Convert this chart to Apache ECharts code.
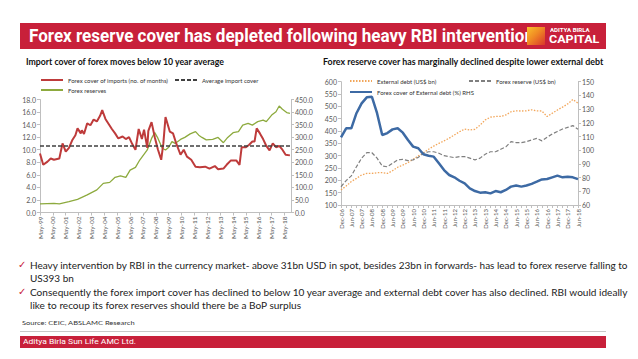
<!DOCTYPE html>
<html><head><meta charset="utf-8">
<script src="https://cdn.jsdelivr.net/npm/echarts@6/dist/echarts.min.js"></script>
<style>
html,body{margin:0;padding:0;background:#fff;width:638px;height:359px;overflow:hidden;font-family:Lato,"Open Sans",sans-serif;}
.abs{position:absolute;white-space:nowrap;}
.fit{display:inline-block;transform-origin:0 0;}
</style></head>
<body>
<div id="chart" style="position:absolute;left:0;top:0;width:638px;height:359px;"></div>

<div class="abs" style="left:20px;top:23px;width:586px;height:26px;background:#C8203A;"></div>
<div class="abs fit" data-w="505" style="left:29px;top:24px;font:bold 19px Roboto,sans-serif;color:#fff;">Forex reserve cover has depleted following heavy RBI intervention</div>
<div class="abs" style="left:527px;top:27px;width:18px;height:18px;background:linear-gradient(135deg,#F9C02B 0%,#F08A24 45%,#D9362B 100%);"></div>
<div class="abs fit" data-w="40" style="left:550px;top:27px;font:bold 5.5px Roboto,sans-serif;color:#fff;">ADITYA BIRLA</div>
<div class="abs fit" data-w="50" style="left:549px;top:33px;font:bold 11px Roboto,sans-serif;color:#fff;">CAPITAL</div>

<div class="abs fit" data-w="198" style="left:26px;top:57px;font:bold 8.5px Lato,sans-serif;color:#111;">Import cover of forex moves below 10 year average</div>
<div class="abs fit" data-w="280" style="left:323px;top:57px;font:bold 8.5px Lato,sans-serif;color:#111;">Forex reserve cover has marginally declined despite lower external debt</div>

<div class="abs" style="left:18px;top:259px;font:10px 'DejaVu Sans',sans-serif;color:#C8203A;">✓</div>
<div class="abs" style="left:18px;top:286px;font:10px 'DejaVu Sans',sans-serif;color:#C8203A;">✓</div>
<div class="abs fit" id="b1" data-w="597" style="left:30px;top:259px;font:10px Lato,sans-serif;color:#222;">Heavy intervention by RBI in the currency market- above 31bn USD in spot, besides 23bn in forwards- has lead to forex reserve falling to</div>
<div class="abs fit" data-same="b1" style="left:30px;top:272px;font:10px Lato,sans-serif;color:#222;">US393 bn</div>
<div class="abs fit" id="b3" data-w="597" style="left:30px;top:286px;font:10px Lato,sans-serif;color:#222;">Consequently the forex import cover has declined to below 10 year average and external debt cover has also declined. RBI would ideally</div>
<div class="abs fit" data-same="b3" style="left:30px;top:299px;font:10px Lato,sans-serif;color:#222;">like to recoup its forex reserves should there be a BoP surplus</div>

<div class="abs fit" data-w="113" style="left:22px;top:319px;font:6.5px Lato,sans-serif;color:#333;">Source: CEIC, ABSLAMC Research</div>
<div class="abs" style="left:20px;top:331px;width:586px;height:1px;background:#C8C8C8;"></div>
<div class="abs" style="left:20px;top:336px;width:586px;height:12px;background:#C8203A;"></div>
<div class="abs fit" data-w="113" style="left:23px;top:337px;font:8px Roboto,sans-serif;color:#fff;">Aditya Birla Sun Life AMC Ltd.</div>

<script>
// ---------- Left chart data (monthly positions, May-99 .. Oct-18) ----------
var importCoverDates = ['1999-05','1999-08','1999-12','2000-03','2000-06','2000-11','2001-02','2001-05','2001-08','2001-11',
 '2002-02','2002-04','2002-07','2002-08','2002-10','2003-01','2003-04','2003-07','2003-10','2004-01','2004-03','2004-06',
 '2004-09','2004-12','2005-03','2005-06','2005-10','2006-01','2006-04','2006-07','2006-10','2007-01','2007-04','2007-06',
 '2007-09','2007-10','2008-01','2008-04','2008-07','2008-10','2008-12','2009-02','2009-06','2009-09','2009-12','2010-04',
 '2010-07','2010-10','2011-02','2011-06','2011-10','2012-03','2012-07','2012-12','2013-03','2013-08','2013-11','2014-03',
 '2014-08','2014-11','2015-01','2015-05','2015-08','2015-11','2016-01','2016-03','2016-06','2016-09','2016-12','2017-03',
 '2017-06','2017-09','2017-12','2018-03','2018-06','2018-10'];
var importCover = [9.4,7.6,8.1,8.6,8.4,8.6,11.0,9.7,10.3,11.5,
 12.3,13.4,12.6,13.1,12.5,14.2,13.9,14.8,14.5,15.4,16.3,14.9,
 14.1,13.3,12.6,11.8,12.1,11.7,12.0,10.9,10.0,13.3,11.7,13.2,
 10.3,13.0,14.4,12.0,10.0,8.4,11.0,15.2,12.9,12.6,11.0,9.2,
 10.0,8.9,8.4,7.3,7.2,7.3,7.0,7.4,6.9,7.0,7.6,8.3,
 8.3,7.6,10.4,10.4,10.8,11.3,11.3,13.4,12.6,11.7,10.6,9.9,
 11.0,10.4,10.6,10.0,9.2,9.1];
var avgImportCover = 10.6;
var reserveDates = ['1999-05','2000-06','2000-11','2001-08','2002-04','2003-01','2003-10','2004-04','2004-10','2005-03',
 '2005-08','2006-01','2006-05','2006-10','2007-02','2007-09','2008-01','2008-04','2008-07','2008-11','2009-02','2009-05',
 '2009-08','2009-11','2010-04','2010-08','2011-01','2011-06','2011-09','2011-12','2012-04','2012-10','2013-03','2013-08',
 '2013-12','2014-05','2014-10','2015-02','2015-07','2015-11','2016-04','2016-09','2016-12','2017-05','2017-09','2017-12',
 '2018-03','2018-07','2018-10'];
var forexReserves = [34,36,34,43,52,70,90,116,120,140,
 146,140,169,180,209,249,295,318,295,256,249,260,
 282,275,291,299,313,322,308,299,289,291,299,278,
 299,318,322,348,355,348,362,368,362,388,401,424,
 411,398,395];

// ---------- Right chart data (quarterly) ----------
var quarters = ['Dec-06','Mar-07','Jun-07','Sep-07','Dec-07','Mar-08','Jun-08','Sep-08','Dec-08','Mar-09','Jun-09','Sep-09',
 'Dec-09','Mar-10','Jun-10','Sep-10','Dec-10','Mar-11','Jun-11','Sep-11','Dec-11','Mar-12','Jun-12','Sep-12','Dec-12',
 'Mar-13','Jun-13','Sep-13','Dec-13','Mar-14','Jun-14','Sep-14','Dec-14','Mar-15','Jun-15','Sep-15','Dec-15','Mar-16',
 'Jun-16','Sep-16','Dec-16','Mar-17','Jun-17','Sep-17','Dec-17','Mar-18','Jun-18'];
var externalDebt = [161,177,195,208,222,228,228,231,231,228,239,253,262,272,285,299,312,326,339,350,360,371,384,397,408,
 404,407,424,445,456,459,459,465,478,482,481,482,486,482,481,459,472,485,497,510,528,513];
var forexReserveQ = [174,199,218,255,290,312,312,290,258,255,269,283,285,280,283,293,310,316,316,310,300,296,292,296,296,
 290,283,290,306,316,316,326,336,357,353,353,357,364,370,360,375,388,398,408,415,422,407];
var debtCover = [109.4,116,116,127,134.2,138.6,139,127,111.1,112.5,115.2,116,112.8,107.4,102.6,101.4,97,96,95.3,90.4,
 85.5,81.9,80.2,77.7,75.8,72.2,70.2,69.0,69.3,68.5,70.2,69.3,71.0,73.4,74.2,73.4,74.2,75.4,77,78.7,79.0,80.2,81.4,80.2,
 80.7,80.2,78.9];

var MONTHS = ['Jan','Feb','Mar','Apr','May','Jun','Jul','Aug','Sep','Oct','Nov','Dec'];
function mIdx(s){var p=s.split('-');return (+p[0]-1999)*12+(+p[1]-5);}
function mLabel(i){var m=4+i;var y=1999+Math.floor(m/12);return MONTHS[m%12]+'-'+String(y).slice(2);}
function pairs(d,v){return d.map(function(s,i){return [mIdx(s),v[i]];});}
var X_MAX = 234;

var FONT = 'Lato';
var axisCol = '#BFBFBF';
var lblCol = '#595959';
function yAx(grid,pos,min,max,intv,fmt){
  return {type:'value',gridIndex:grid,position:pos,min:min,max:max,interval:intv,
    axisLine:{show:true,lineStyle:{color:axisCol,width:1}},
    axisTick:{show:true,length:3,lineStyle:{color:axisCol}},
    splitLine:{show:false},
    axisLabel:{fontSize:7,color:lblCol,fontFamily:FONT,margin:4,formatter:fmt}};
}
var legTxt = {fontSize:6,color:'#333',fontFamily:FONT};
function leg(name,left,top){
  return {data:[name],left:left,top:top,itemWidth:22,itemHeight:6,padding:0,itemGap:2,textStyle:legTxt,
    selectedMode:false,itemStyle:{opacity:0,borderWidth:0}};
}

var chart = echarts.init(document.getElementById('chart'),null,{renderer:'svg'});
var debtData = debtCover.map(function(v,i){
  return i===debtCover.length-1 ? {value:v,label:{show:true,position:'top',distance:3,formatter:'78.9',fontSize:7,color:'#404040',fontFamily:FONT}} : v;
});
chart.setOption({
  animation:false,
  grid:[{left:40,top:99.5,width:251,height:113},{left:341,top:81.7,width:237,height:123.3}],
  legend:[
    leg('Forex cover of imports (no. of months)',40,77),
    leg('Average import cover',174,77),
    leg('Forex reserves',40,87),
    leg('External debt (US$ bn)',349,78),
    leg('Forex reserve (US$ bn)',468,78),
    leg('Forex cover of External debt (%) RHS',349,89)
  ],
  xAxis:[
    {type:'value',gridIndex:0,min:0,max:X_MAX,interval:12,
     axisLine:{show:true,onZero:false,lineStyle:{color:axisCol}},
     axisTick:{show:true,length:3,lineStyle:{color:axisCol}},
     splitLine:{show:false},
     axisLabel:{rotate:90,fontSize:6.5,color:lblCol,fontFamily:FONT,margin:4,showMaxLabel:false,
       formatter:function(v){return (v%12===0)?mLabel(v):'';}}},
    {type:'category',gridIndex:1,data:quarters,boundaryGap:false,
     axisLine:{show:true,lineStyle:{color:axisCol}},
     axisTick:{show:true,length:3,interval:0,lineStyle:{color:axisCol}},
     axisLabel:{rotate:90,interval:1,fontSize:6,color:lblCol,fontFamily:FONT,margin:4}}
  ],
  yAxis:[
    yAx(0,'left',0,18,2,function(v){return v.toFixed(1);}),
    yAx(0,'right',0,450,50,function(v){return v.toFixed(1);}),
    yAx(1,'left',100,600,50,function(v){return v;}),
    yAx(1,'right',60,150,10,function(v){return v;})
  ],
  series:[
    {name:'Forex cover of imports (no. of months)',type:'line',xAxisIndex:0,yAxisIndex:0,symbol:'none',
     data:pairs(importCoverDates,importCover),color:'#BE3B3B',lineStyle:{width:2,color:'#BE3B3B'},z:3},
    {name:'Average import cover',type:'line',xAxisIndex:0,yAxisIndex:0,symbol:'none',
     data:[[0,avgImportCover],[X_MAX,avgImportCover]],color:'#404040',lineStyle:{width:1.5,type:[4,2],color:'#404040'},z:4},
    {name:'Forex reserves',type:'line',xAxisIndex:0,yAxisIndex:1,symbol:'none',
     data:pairs(reserveDates,forexReserves),color:'#8DAA3E',lineStyle:{width:1.3,color:'#8DAA3E'},z:2},
    {name:'External debt (US$ bn)',type:'line',xAxisIndex:1,yAxisIndex:2,symbol:'none',
     data:externalDebt,color:'#F2A65A',lineStyle:{width:1.3,type:[1.5,1.5],color:'#F2A65A'}},
    {name:'Forex reserve (US$ bn)',type:'line',xAxisIndex:1,yAxisIndex:2,symbol:'none',
     data:forexReserveQ,color:'#7F7F7F',lineStyle:{width:1.2,type:[4,2],color:'#7F7F7F'}},
    {name:'Forex cover of External debt (%) RHS',type:'line',xAxisIndex:1,yAxisIndex:3,symbol:'none',
     data:debtData,color:'#3D6AA4',lineStyle:{width:2.5,color:'#3D6AA4'}}
  ]
});

function fitAll(){
  var els=document.querySelectorAll('.fit');
  var scales={};
  els.forEach(function(el){
    if(el.dataset.w){el.style.transform='none';var s=(+el.dataset.w)/el.scrollWidth;el.style.transform='scaleX('+s+')';if(el.id)scales[el.id]=s;}
  });
  els.forEach(function(el){
    if(el.dataset.same){var s=scales[el.dataset.same]||1;el.style.transform='scaleX('+s+')';}
  });
}
fitAll();
if(document.fonts&&document.fonts.ready){document.fonts.ready.then(fitAll);}
</script>
</body></html>
